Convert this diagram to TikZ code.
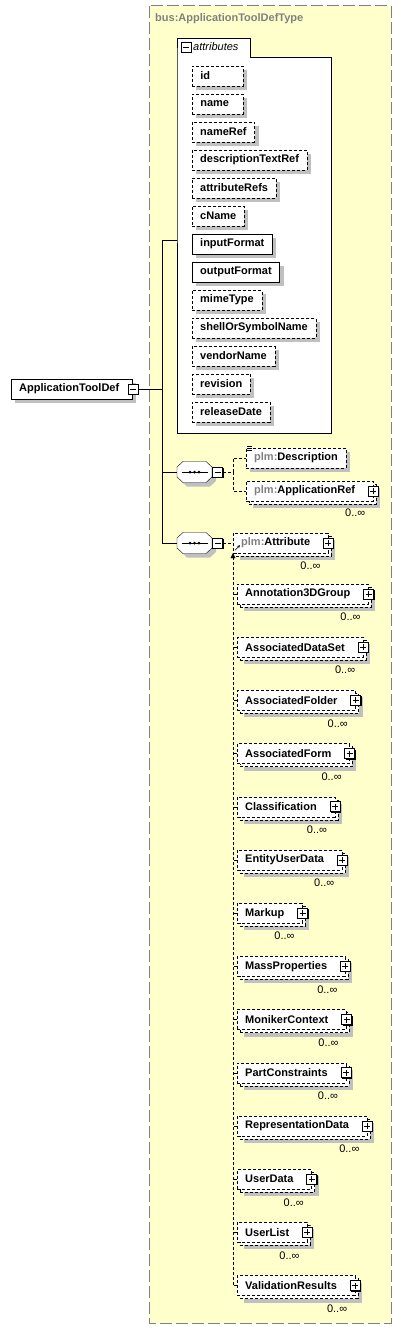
\documentclass[tikz,border=0pt]{standalone}
\usepackage{fontspec}
\setmainfont{Liberation Sans}
\usepackage{xcolor}
\usepackage{tikz}
\usetikzlibrary{shadows,positioning,calc,arrows.meta}

\definecolor{typeyellow}{HTML}{FFFFCC}
\definecolor{typegray}{HTML}{808080}
\definecolor{shadowgray}{HTML}{C0C0C0}

\newcommand{\pfx}[1]{\textcolor{typegray}{#1:}}

\tikzset{
  elembase/.style={draw, fill=white, anchor=west, font=\bfseries\fontsize{11}{13}\selectfont,
    minimum height=20pt, inner xsep=8pt, inner ysep=0pt},
  elem/.style={elembase, drop shadow={shadow xshift=4pt, shadow yshift=-4pt, fill=shadowgray, opacity=1}},
  optelem/.style={elem, dash pattern=on 3pt off 2pt},
  manyelem/.style={elembase, dash pattern=on 3pt off 2pt,
    drop shadow={shadow xshift=7pt, shadow yshift=-7pt, fill=shadowgray, opacity=1},
    copy shadow={shadow xshift=3pt, shadow yshift=-3pt, fill=white},
    execute at end node={\hspace*{10pt}}},
  attrelem/.style={elem, minimum width=51pt},
  optattr/.style={optelem, minimum width=51pt},
  pmbox/.style={draw, solid, fill=white, minimum size=10pt, inner sep=0pt, line width=0.8pt,
    drop shadow={shadow xshift=1pt, shadow yshift=-1pt, fill=black, opacity=1}},
  minusbox/.style={pmbox, path picture={
    \draw[line width=0.7pt] ([xshift=2pt]path picture bounding box.west) -- ([xshift=-2pt]path picture bounding box.east);}},
  plusbox/.style={pmbox, path picture={
    \draw[line width=0.7pt] ([xshift=2pt]path picture bounding box.west) -- ([xshift=-2pt]path picture bounding box.east)
      ([yshift=-2pt]path picture bounding box.north) -- ([yshift=2pt]path picture bounding box.south);}},
  octagon/.pic={
    \fill[shadowgray, shift={(4,4)}] (-17.5,-5) -- (-11.5,-10.5) -- (11.5,-10.5) -- (17.5,-5)
      -- (17.5,5) -- (11.5,10.5) -- (-11.5,10.5) -- (-17.5,5) -- cycle;
    \draw[fill=white] (-17.5,-5) -- (-11.5,-10.5) -- (11.5,-10.5) -- (17.5,-5)
      -- (17.5,5) -- (11.5,10.5) -- (-11.5,10.5) -- (-17.5,5) -- cycle;},
  seqbox/.style={minimum width=35pt, minimum height=21pt, inner sep=0pt,
    path picture={
      \draw ([xshift=-13pt]path picture bounding box.center) -- ([xshift=13pt]path picture bounding box.center);
      \foreach \d in {-4.5pt,0pt,4.5pt} \fill ([xshift=\d]path picture bounding box.center) circle (1.5pt);}},
  conn/.style={dash pattern=on 3pt off 2pt},
  card/.style={font=\fontsize{11}{13}\selectfont, inner sep=0pt},
}

\begin{document}
\begin{tikzpicture}[x=1pt,y=-1pt]
    \fill[white] (0,0) rectangle (402,1332);
    \useasboundingbox (0,0) rectangle (402,1332);

    % complex type frame
    \draw[typegray, line width=1pt, dash pattern=on 12pt off 4pt, fill=typeyellow] (149,6) rectangle (391,1323);
    \node[anchor=west, text=typegray, font=\bfseries\fontsize{11}{13}\selectfont, inner sep=0pt] (typename) at (155,19) {bus:ApplicationToolDefType};

    % attributes group
    \draw[fill=white] (177,57) -- (177,38) -- (250,38) -- (250,57) -- (331,57) -- (331,433) -- (177,433) -- cycle;
    \node[minusbox] (attrm) at (186,47.5) {};
    \node[anchor=west, font=\itshape\fontsize{11}{13}\selectfont, inner sep=0pt] (attrlabel) at (193,47) {attributes};
    \coordinate (attrin) at (177,240);
    \foreach \nm/\st [count=\i from 0] in {{id\hspace*{25pt}}/optattr, {name\hspace*{6pt}}/optattr, nameRef/optattr,
        descriptionTextRef/optattr, attributeRefs/optattr, cName/optattr, inputFormat/attrelem,
        outputFormat/attrelem, mimeType/optattr, shellOrSymbolName/optattr, vendorName/optattr,
        revision/optattr, releaseDate/optattr}
      \node[style=\st] (a\i) at (192,{76+28*\i}) {\nm};

    % root element
    \node[elem] (root) at (11,389) {ApplicationToolDef\hspace*{5pt}};
    \node[minusbox] (rootm) at ([xshift=1pt]root.east) {};
    \coordinate (trunktop) at (162,240);
    \coordinate (trunkbot) at (162,543);
    \draw (rootm.east) -- (rootm.east -| trunktop);
    \draw (trunktop) -- (trunkbot);
    \draw (trunktop) -- (attrin);

    % first sequence
    \pic at (194.5,472) {octagon};
    \node[seqbox] (seq1) at (194.5,472) {};
    \node[minusbox, right=0pt of seq1] (seq1m) {};
    \draw (seq1.west -| trunktop) -- (seq1.west);
    \node[optelem] (desc) at (246,458) {\pfx{plm}Description};
    \foreach \k in {2pt,0pt,-2pt}
      \draw[line width=0.6pt] ([xshift=1pt,yshift=\k]desc.north west) -- ++(5,0);
    \node[manyelem] (appref) at (246,491) {\pfx{plm}ApplicationRef};
    \node[plusbox] (apprefp) at (appref.east) {};
    \node[card] (apprefc) at ([xshift=-18pt,yshift=-22pt]appref.east) {0..∞};
    \draw[conn] (seq1m.east) -- ++(10,0) coordinate (fork1);
    \draw[conn] (fork1) |- (desc.west);
    \draw[conn] (fork1) |- (appref.west);

    % second sequence
    \pic at (194.5,543) {octagon};
    \node[seqbox] (seq2) at (194.5,543) {};
    \node[minusbox, right=0pt of seq2] (seq2m) {};
    \draw (trunkbot) -- (seq2.west);
    \node[manyelem] (attr) at (233,543) {\pfx{plm}Attribute};
    \node[plusbox] (attrp) at (attr.east) {};
    \node[card] (attrc) at ([xshift=-18pt,yshift=-23pt]attr.east) {0..∞};
    \draw[-{Stealth[length=3pt,width=3pt]}, line width=0.6pt] ([xshift=2pt,yshift=3pt]attr.south west) -- ++(5,-5);
    \draw[conn] (seq2m.east) -- (attr.west);

    % substitution group members
    \foreach \nm [count=\i from 0] in {Annotation3DGroup, AssociatedDataSet, AssociatedFolder,
        AssociatedForm, Classification, EntityUserData, Markup, MassProperties, MonikerContext,
        PartConstraints, RepresentationData, UserData, UserList, ValidationResults} {
      \node[manyelem] (s\i) at (237,{594+53.2*\i}) {\nm};
      \node[plusbox] (p\i) at (s\i.east) {};
      \node[card] (c\i) at ([xshift=-18pt,yshift=-23pt]s\i.east) {0..∞};
      \draw[conn] (s\i.west) -- ++(-4,0);
    }
    \draw[conn, -{Triangle[length=5pt,width=5pt]}] (s13.west) -| (attr.south west);
\end{tikzpicture}
\end{document}
